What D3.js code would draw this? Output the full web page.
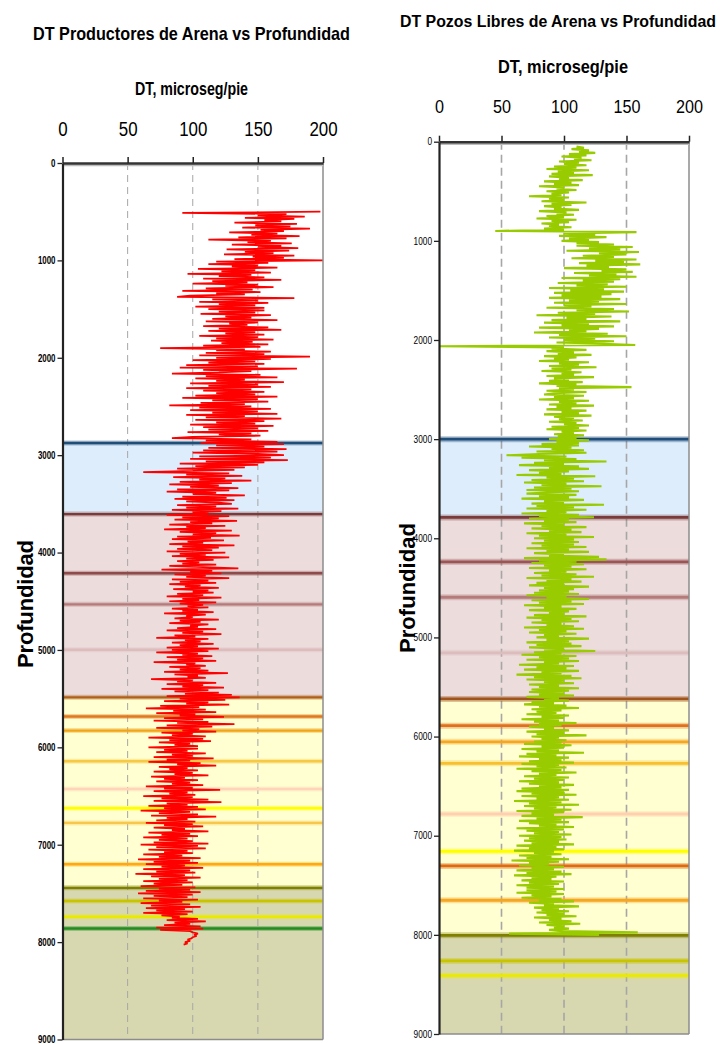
<!DOCTYPE html>
<html><head><meta charset="utf-8">
<script src="https://cdn.jsdelivr.net/npm/d3@7"></script>
<style>
body{margin:0;background:#fff;}
svg{display:block;}
text{font-family:"Liberation Sans Narrow","Arial Narrow","Liberation Sans",Arial,sans-serif;}
</style></head><body>
<svg id="c" width="726" height="1044"></svg>
<script>
// ---------------- DATA ----------------
const xTickValues = [0, 50, 100, 150, 200];
const gridValues = [50, 100, 150];
const depthTicks = [0, 1000, 2000, 3000, 4000, 5000, 6000, 7000, 8000, 9000];
const depthStep = 12.5;

const leftTitle = "DT Productores de Arena vs Profundidad";
const rightTitle = "DT Pozos Libres de Arena vs Profundidad";
const xTitle = "DT, microseg/pie";
const yTitle = "Profundidad";

// DT (microseg/pie) of sand producers, every 12.5 ft starting at 500 ft (one row = 500 ft)
const leftDepthStart = 500;
const leftDT = [
 198, 92,172,150,186,140,178,155,168,132,180,148,175,138,190,152,170,128,165,145,182,135,172,112,160,142,176,130,168,150,181,126,174,140,162,124,178,146,170,132,
 200,118,158,112,150,130,165,104,148,122,160, 96,145,120,155,108,168,115,142,100,150,125,162,110,146, 92,152,118,140, 98, 88,178,115,150,105,158,120,148,102,155,
 112,155,120,148,106,160,125,145,115,165,110,150,128,142,108,158,120,168,112,148,125,155,105,150,118,162,114,146,122,158,108,152, 75,140,118,160,110,155,105,190,
 118,160,100,148,112,155, 95,150, 90,180,108,145,120, 84,152,110,165,102,140,118,170, 98,150,112,160, 95,145,108,155,118,148,102,165, 92,150,115,158,106,140, 82,
 145,105,160, 98,150,115,165, 95,140,110,168,102,155,118,148, 98,162,108,150,112,158, 96,145,120,152,100, 84,145,110,165,106,170,118,155,112,172,108,165,100,150,
 170,105,160, 98,173,110,155, 90,150,102,140, 88,132,100, 62,128, 95,138, 85,125,105,145, 90,130, 82,120, 98,135, 88,128, 80,118,100,140, 92,126, 86,132, 95,120,
 130, 88,118, 95,135, 84,122,100,112, 80,128, 92,120, 86,134, 98,115, 82,125, 95,110, 78,130, 90,118,100,136, 88,114, 84,124, 96,108, 82,132, 92,120, 88,115, 80,
 125, 90,110, 84,128, 95,116, 88,105, 92,118, 82,108,135, 76,115, 98,122, 86,110, 95,128, 84,112, 90,118, 82,106, 94,120, 85,112,100,116, 88,108, 80,122, 92,105,
  82,118, 90,108, 96,112, 84,104, 92,116, 78,110, 95,100, 86,120, 90,106, 82,112, 98,104, 88,118, 80,108, 92,122, 86,102, 72,112, 94,106, 84,116, 90,104, 80,120,
  84,112, 72,104, 92,115, 80,108, 88,118, 70,102, 95,110, 82,106, 90,112, 78,127, 86,104, 96,110, 68,100, 88,118, 80,108, 92,124, 76,112, 86,120, 94,130, 80,136,
  90,125, 78,112, 95,128, 75,105, 64,110, 85,118, 72,102, 90,124, 78,108, 70,112, 88,132, 80,115, 72,105, 92,118, 76,100, 84,110, 66,108, 82,114, 74, 98, 86,104,
  66,104, 78, 96, 72,110, 84,100, 70,116, 80, 98, 66,106, 88,118, 74, 96, 82,104, 70,100, 86,112, 68, 94, 78,104, 72, 98, 84,108, 64,100, 78,121, 70, 96, 82,102,
  62,100, 76,112, 70,122, 80, 96, 66,104, 78,110, 60, 98, 74,104, 68,118, 80, 96, 72,102, 64,100, 78,108, 70, 94, 84,112, 66, 98, 76,104, 62, 96, 74,100, 70,112,
  60,104, 72,110, 66, 96, 78,100, 62, 92, 74,106, 58, 98, 70,104, 64, 94, 76,108, 62, 98, 72,102, 56, 94, 68,106, 74, 96, 62,100, 70, 92, 60,102, 74, 98, 64,106,
  58,100, 70, 96, 62,104, 74, 92, 60, 98, 68,106, 64, 94, 72,100, 62, 96, 76, 90, 84,104, 80,110, 86, 98, 78,106, 72,108, 75, 98,100,104,101,103,100, 99, 96, 98,
  94, 96, 93
];

// DT of sand-free wells, every 12.5 ft starting at 50 ft (one row = 500 ft)
const rightDepthStart = 50;
const rightDT = [
 110,116,106,120,112,125,104,118, 98,114,108,122, 96,112,100,118, 92,110, 86,120, 95,108, 90,123, 88,104, 96,115, 84,106, 92,112, 80,100, 94,110, 86,104, 90, 98,
  72,104, 88,100, 82,118, 90,106, 84, 98, 92,112, 80,102, 94,108, 86,100, 78,110, 90,104, 82, 96, 88,106, 84,100, 45,158,100,125, 96,134,104,120, 98,128,110,140,
 110,155,120,145,102,160,128,150,115,140,106,158,125,148,112,161,118,136,100,150,130,155,108,142,120,158, 98,145,115,140, 95,135,110,150, 88,132,105,148, 92,138,
  98,130, 88,145,104,128, 92,150,100,122, 86,140,110,152, 95,125, 78,138,102,118, 90,145, 84,120, 98,140, 80,128,104,118, 76,135, 96,150, 88,125,100,140, 94,132,
 157,  0,100, 90,118, 86,108, 95,122, 84,110, 92,104, 80,120, 96,112, 88,126, 90,106, 82,114, 98,108, 86,124, 92,104, 88,115, 80,110, 94,154, 96,108, 86,118, 92,
  84,116, 92,108, 80,120, 96,110, 88,124, 94,106, 86,118, 98,112, 84,122, 92,108, 96,115, 88,110,100,120, 90,112, 86,118, 98,108, 92,116, 95,110, 88,120, 94,112,
  82,112, 72,106, 90,116, 78,118, 80, 54,102, 66,110, 84,134, 76,100, 64,112, 88,120, 72,104, 80, 98, 62,125, 86,108, 74,116, 68,102, 82,130, 76,106, 70,112, 86,
  70,110, 80,104, 66,116, 84,100, 74,132, 78,108, 70,118, 86,102, 66,112, 80,124, 72,104, 84,110, 68,100, 82,118, 74,106, 88,114, 70,102, 80,124, 76,108, 84,112,
  74,108, 82,118, 70,104, 86,120, 76,100, 88,128, 68,134, 80,110, 74,116, 84,106, 72,118, 88,102, 76,110, 82,124, 70,106, 86,114, 78,100, 72,120, 84,108, 80,104,
  76,112, 70,102, 86,120, 74,106, 80,116, 68, 98, 84,110, 72,104, 88,100, 76,118, 70,106, 82,112, 74, 98, 86,108, 68,116, 80,102, 72,110, 84, 96, 78,120, 86,104,
  70,106, 78,114, 72,100, 84,125, 76, 98, 66,110, 80,104, 70,112, 84, 96, 64,108, 78,102, 68,112, 82, 98, 62,106, 76,114, 70,100, 84,108, 72, 96, 80,112, 74,104,
  72,100, 80,108, 70, 96, 84,104, 74, 92, 68,102, 80,112, 74, 98, 78, 94, 70,104, 82,100, 66, 96, 76,110, 80, 98, 72, 92, 84,104, 70,100, 78,118, 74, 96, 82,102,
  76, 98, 68,106, 82,100, 66, 96, 78,116, 70, 94, 64,104, 80, 98, 72,108, 66, 96, 78,102, 62, 98, 74,110, 80, 94, 68,104, 76,100, 64, 96, 72,108, 80, 98, 66,104,
  62,100, 74,110, 66, 96, 78,104, 60, 98, 72,112, 68, 94, 76,106, 62,100, 74, 92, 66,115, 78, 98, 64,104, 72, 94, 80,108, 62,100, 70, 96, 76,106, 64, 98, 72,102,
  68, 96, 74,108, 62, 94, 72,100, 60, 92, 76, 98, 64, 90, 70,104, 58, 96, 72, 88, 64,100, 74, 92, 62, 98, 70,106, 60, 94, 74, 90, 66,100, 72, 96, 62, 92, 70,100,
  70, 94, 62,100, 74, 90, 66, 98, 80,108, 72, 92, 84,112, 76, 96, 82,104, 78,100, 86,110, 76, 98, 88,106, 80,113, 86,100, 92,104, 88, 98,159, 56,128
];

// formation zones (top depth of each shaded zone) and marker horizons
const leftZoneTops = [2875, 3605, 5487, 7443];
const rightZoneTops = [3000, 3790, 5620, 8005];
const leftMarkers = [2875, 3605, 4212, 4532, 4998, 5487, 5683, 5828, 6143, 6428, 6626, 6776, 7200, 7443, 7578, 7739, 7860];
const rightMarkers = [3000, 3790, 4238, 4595, 5155, 5620, 5890, 6053, 6270, 6781, 7157, 7305, 7651, 8005, 8263, 8411];

// ---------------- STYLES ----------------
const zoneFills = ["#ddedfc", "#ecdcdc", "#ffffd2", "#d8d8b0"];
const leftMarkerColors = ["#1f4e79","#7a3b3b","#8e4b4b","#b57b7b","#dcbcbc","#b0601a","#e07820","#f2a418","#f6c844","#ffd4b8","#ffff00","#f8c64a","#ffa812","#7f7f00","#c8c400","#eaea00","#228b22"];
const rightMarkerColors = ["#1f4e79","#7a3b3b","#9a5555","#b57b7b","#dcbcbc","#a0541e","#e07020","#f5a623","#f6c030","#ffd0b0","#ffff00","#e06a10","#f5a623","#7f7f00","#c8c400","#eaea00"];
const FONT = '"Liberation Sans Narrow","Arial Narrow","Liberation Sans",Arial,sans-serif';

const svg = d3.select("#c");

function drawPanel(cfg) {
  const x = d3.scaleLinear().domain([0, 200]).range([cfg.x0, cfg.x1]);
  const y = d3.scaleLinear().domain([0, 9000]).range([cfg.y0, cfg.y1]);
  const g = svg.append("g");

  cfg.zoneTops.forEach((t, i) => {
    const b = i < cfg.zoneTops.length - 1 ? cfg.zoneTops[i + 1] : 9000;
    g.append("rect").attr("x", x(0)).attr("width", x(200) - x(0))
      .attr("y", y(t)).attr("height", y(b) - y(t)).attr("fill", zoneFills[i]);
  });

  g.selectAll(".grid").data(gridValues).enter().append("line")
    .attr("x1", d => x(d)).attr("x2", d => x(d))
    .attr("y1", y(0)).attr("y2", y(9000))
    .attr("stroke", "#a6a6a6").attr("stroke-width", cfg.gridW)
    .attr("stroke-dasharray", cfg.dash);

  cfg.markers.forEach((m, i) => {
    g.append("line").attr("x1", x(0)).attr("x2", x(200)).attr("y1", y(m)).attr("y2", y(m))
      .attr("stroke", cfg.markerColors[i]).attr("stroke-opacity", 0.35).attr("stroke-width", cfg.haloW);
    g.append("line").attr("x1", x(0)).attr("x2", x(200)).attr("y1", y(m)).attr("y2", y(m))
      .attr("stroke", cfg.markerColors[i]).attr("stroke-width", cfg.markW);
  });

  const line = d3.line()
    .x(d => x(d))
    .y((d, i) => y(cfg.depthStart + i * depthStep));
  g.append("path").datum(cfg.dt).attr("d", line)
    .attr("fill", "none").attr("stroke", cfg.color).attr("stroke-width", cfg.curveW)
    .attr("stroke-linejoin", "bevel");

  g.append("line").attr("x1", x(200)).attr("x2", x(200)).attr("y1", y(0)).attr("y2", y(9000))
    .attr("stroke", "#8c8c8c").attr("stroke-width", 1.5);
  g.append("line").attr("x1", x(0)).attr("x2", x(200)).attr("y1", y(9000)).attr("y2", y(9000))
    .attr("stroke", "#8c8c8c").attr("stroke-width", 1.5);
  g.append("line").attr("x1", x(0)).attr("x2", x(200)).attr("y1", y(0) + 2.2).attr("y2", y(0) + 2.2)
    .attr("stroke", "#bdbdbd").attr("stroke-width", 2);

  const ax = g.append("g").attr("transform", `translate(0,${y(0)})`)
    .call(d3.axisTop(x).tickValues(xTickValues).tickSize(6).tickSizeOuter(0).tickPadding(cfg.topPad).tickFormat(d3.format("d")));
  ax.select(".domain").attr("stroke", "#333").attr("stroke-width", 2.6);
  ax.selectAll(".tick line").attr("stroke", "#222").attr("stroke-width", 1.5);
  ax.selectAll("text").attr("font-size", cfg.topFont).attr("fill", "#000").attr("font-family", FONT)
    .attr("textLength", d => String(d).length * cfg.topChar).attr("lengthAdjust", "spacingAndGlyphs");

  const ay = g.append("g").attr("transform", `translate(${x(0)},0)`)
    .call(d3.axisLeft(y).tickValues(depthTicks).tickSize(5).tickSizeOuter(0).tickPadding(2).tickFormat(d3.format("d")));
  ay.select(".domain").attr("stroke", "#222").attr("stroke-width", 2.2);
  ay.selectAll(".tick line").attr("stroke", "#222").attr("stroke-width", 1.3);
  ay.selectAll("text").attr("font-size", cfg.yFont).attr("font-weight", cfg.yWeight).attr("fill", "#000")
    .attr("font-family", FONT)
    .attr("textLength", d => String(d).length * cfg.yChar).attr("lengthAdjust", "spacingAndGlyphs");

  svg.append("text").attr("x", cfg.titleX).attr("y", cfg.titleY).attr("text-anchor", "start")
    .attr("font-size", cfg.titleFont).attr("font-weight", "bold")
    .attr("textLength", cfg.titleLen).attr("lengthAdjust", "spacingAndGlyphs").text(cfg.title);
  svg.append("text").attr("x", cfg.subX).attr("y", cfg.subY).attr("text-anchor", "middle")
    .attr("font-size", cfg.subFont).attr("font-weight", "bold")
    .attr("textLength", cfg.subLen).attr("lengthAdjust", "spacingAndGlyphs").text(xTitle);
  svg.append("text").attr("transform", `translate(${cfg.ylX},${cfg.ylY}) rotate(-90)`)
    .attr("text-anchor", "middle").attr("font-size", 22).attr("font-weight", "bold")
    .attr("textLength", cfg.ylLen).attr("lengthAdjust", "spacing").text(yTitle);
}

drawPanel({
  x0: 62.5, x1: 323, y0: 163, y1: 1039.5,
  depthStart: leftDepthStart, dt: leftDT, color: "#ff0000", curveW: 1.75,
  zoneTops: leftZoneTops, markers: leftMarkers, markerColors: leftMarkerColors,
  gridW: 1, dash: "7,5", haloW: 5, markW: 2.4,
  topPad: 21, topFont: 20, topChar: 9.4, yFont: 10.5, yWeight: "bold", yChar: 4.4,
  title: leftTitle, titleX: 33, titleY: 40, titleFont: 19, titleLen: 317,
  subX: 191.5, subY: 95, subFont: 18, subLen: 113,
  ylX: 33, ylY: 604, ylLen: 128
});
drawPanel({
  x0: 439, x1: 689, y0: 141.7, y1: 1034,
  depthStart: rightDepthStart, dt: rightDT, color: "#99cc00", curveW: 2.1,
  zoneTops: rightZoneTops, markers: rightMarkers, markerColors: rightMarkerColors,
  gridW: 1.6, dash: "8,5", haloW: 6, markW: 2.8,
  topPad: 22.5, topFont: 18, topChar: 9, yFont: 10, yWeight: "normal", yChar: 4.6,
  title: rightTitle, titleX: 400, titleY: 27, titleFont: 16, titleLen: 316,
  subX: 563, subY: 73, subFont: 18, subLen: 130,
  ylX: 415, ylY: 588, ylLen: 130
});
</script>
</body></html>
